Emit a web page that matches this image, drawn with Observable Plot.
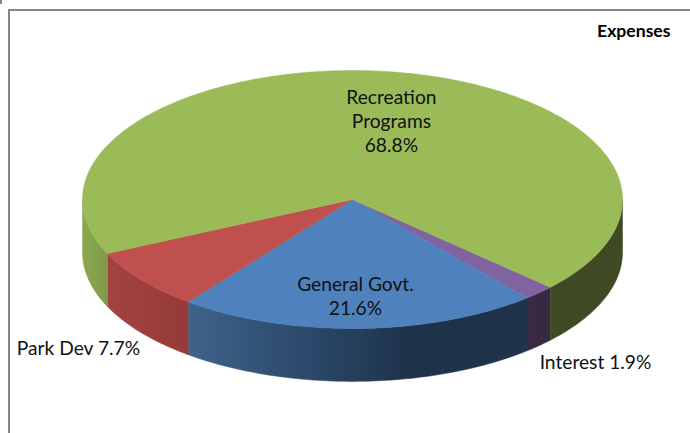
<!DOCTYPE html>
<html>
<head>
<meta charset="utf-8">
<script src="https://cdn.jsdelivr.net/npm/d3@7"></script>
<script src="https://cdn.jsdelivr.net/npm/@observablehq/plot@0.6"></script>
<style>
  html, body { margin: 0; padding: 0; background: #fff; overflow: hidden; }
  #wrap { position: relative; width: 690px; height: 433px; }
  #frame { position: absolute; left: 8px; top: 9px; right: 0; bottom: 0;
           border-left: 2px solid #868686; border-top: 2px solid #868686; }
  #corner { position: absolute; left: 0; top: 0; width: 2px; height: 4px; background: #868686; }
  #wrap svg { position: absolute; left: 0; top: 0; background: transparent; }
</style>
</head>
<body>
<div id="wrap"><div id="frame"></div><div id="corner"></div></div>
<script>
const title = "Expenses";
const categories = ["Interest", "General Govt.", "Park Dev", "Recreation Programs"];
const shares = [1.9, 21.6, 7.7, 68.8];
const labels = ["Interest 1.9%", "General Govt.\n21.6%", "Park Dev 7.7%", "Recreation\nPrograms\n68.8%"];
const topColors = ["#8064a2", "#4f81bd", "#c0504d", "#9bbb59"];

// Layout, in units of the pie's radius
const startAngle = 42.9;
const depth = 0.41;
const labelX = [0.9, 0.011, -1.015, 0.144];
const labelY = [1.252, 0.745, 1.143, -0.617];

// Horizontal shading of each slice's rim
const sideStops = {
  "Interest": ["#3a2a48", "#35283f"],
  "General Govt.": ["#3f638a", "#2c4a6c", "#1e3249", "#1f334b"],
  "Park Dev": ["#a34341", "#953a38"],
  "Recreation Programs-left": ["#8aa750", "#7f9b49"],
  "Recreation Programs-right": ["#3f4a24", "#3f4a24"]
};

const rad = (a) => (a * Math.PI) / 180;
const arc = (a0, a1) => {
  const pts = [];
  const n = Math.max(2, Math.ceil(Math.abs(a1 - a0)));
  for (let i = 0; i <= n; ++i) {
    const a = rad(a0 + ((a1 - a0) * i) / n);
    pts.push([Math.cos(a), Math.sin(a)]);
  }
  return pts;
};

let cum = startAngle;
const slices = categories.map((name, i) => {
  const a0 = cum;
  cum += (shares[i] / 100) * 360;
  return { name, a0, a1: cum, color: topColors[i] };
});

const topFaces = slices.map((s) =>
  [[0, 0], ...arc(s.a0, s.a1), [0, 0]].map(([x, y]) => ({ x, y, name: s.name, color: s.color }))
);

const sideFace = (a0, a1, key) => {
  const rim = arc(a0, a1);
  const pts = [...rim, ...rim.slice().reverse().map(([x, y]) => [x, y + depth]), rim[0]];
  return pts.map(([x, y]) => ({ x, y, name: key, color: `url(#side-${key.replace(/[^a-z]+/gi, "")})` }));
};

const [interest, general, park, recreation] = slices;
const sideFaces = [
  sideFace(interest.a0, interest.a1, "Interest"),
  sideFace(general.a0, general.a1, "General Govt."),
  sideFace(park.a0, park.a1, "Park Dev"),
  sideFace(park.a1, 180, "Recreation Programs-left"),
  sideFace(0, startAngle, "Recreation Programs-right")
];

const defs = () => {
  const d = d3.create("svg:defs");
  for (const [key, stops] of Object.entries(sideStops)) {
    const g = d.append("linearGradient")
      .attr("id", `side-${key.replace(/[^a-z]+/gi, "")}`)
      .attr("x1", 0).attr("x2", 1).attr("y1", 0).attr("y2", 0);
    stops.forEach((c, i) =>
      g.append("stop").attr("offset", i / (stops.length - 1)).attr("stop-color", c)
    );
  }
  return d.node();
};

const face = (points) =>
  Plot.line(points, {
    x: "x", y: "y",
    fill: points[0].color,
    stroke: points[0].color,
    strokeWidth: 0.5,
    curve: "linear"
  });

const labelRows = labels.map((text, i) => ({ text, x: labelX[i], y: labelY[i] }));

const chart = Plot.plot({
  width: 690,
  height: 433,
  margin: 0,
  x: { domain: [-1, 1], range: [82, 622], axis: null },
  y: { domain: [-1, 1], range: [70, 328], axis: null },
  style: { background: "transparent", fontFamily: "Lato, sans-serif" },
  marks: [
    defs,
    ...sideFaces.map(face),
    ...topFaces.map(face),
    Plot.text(labelRows, {
      x: "x", y: "y", text: "text",
      fontSize: 19.2, lineHeight: 1.25, lineAnchor: "middle",
      textAnchor: "middle", fill: "#111"
    }),
    Plot.text([title], {
      frameAnchor: "top-right", dx: -20, dy: 23.5,
      fontSize: 17.6, fontWeight: "bold", fill: "#000",
      lineAnchor: "top"
    })
  ]
});
document.getElementById("wrap").appendChild(chart);
</script>
</body>
</html>
